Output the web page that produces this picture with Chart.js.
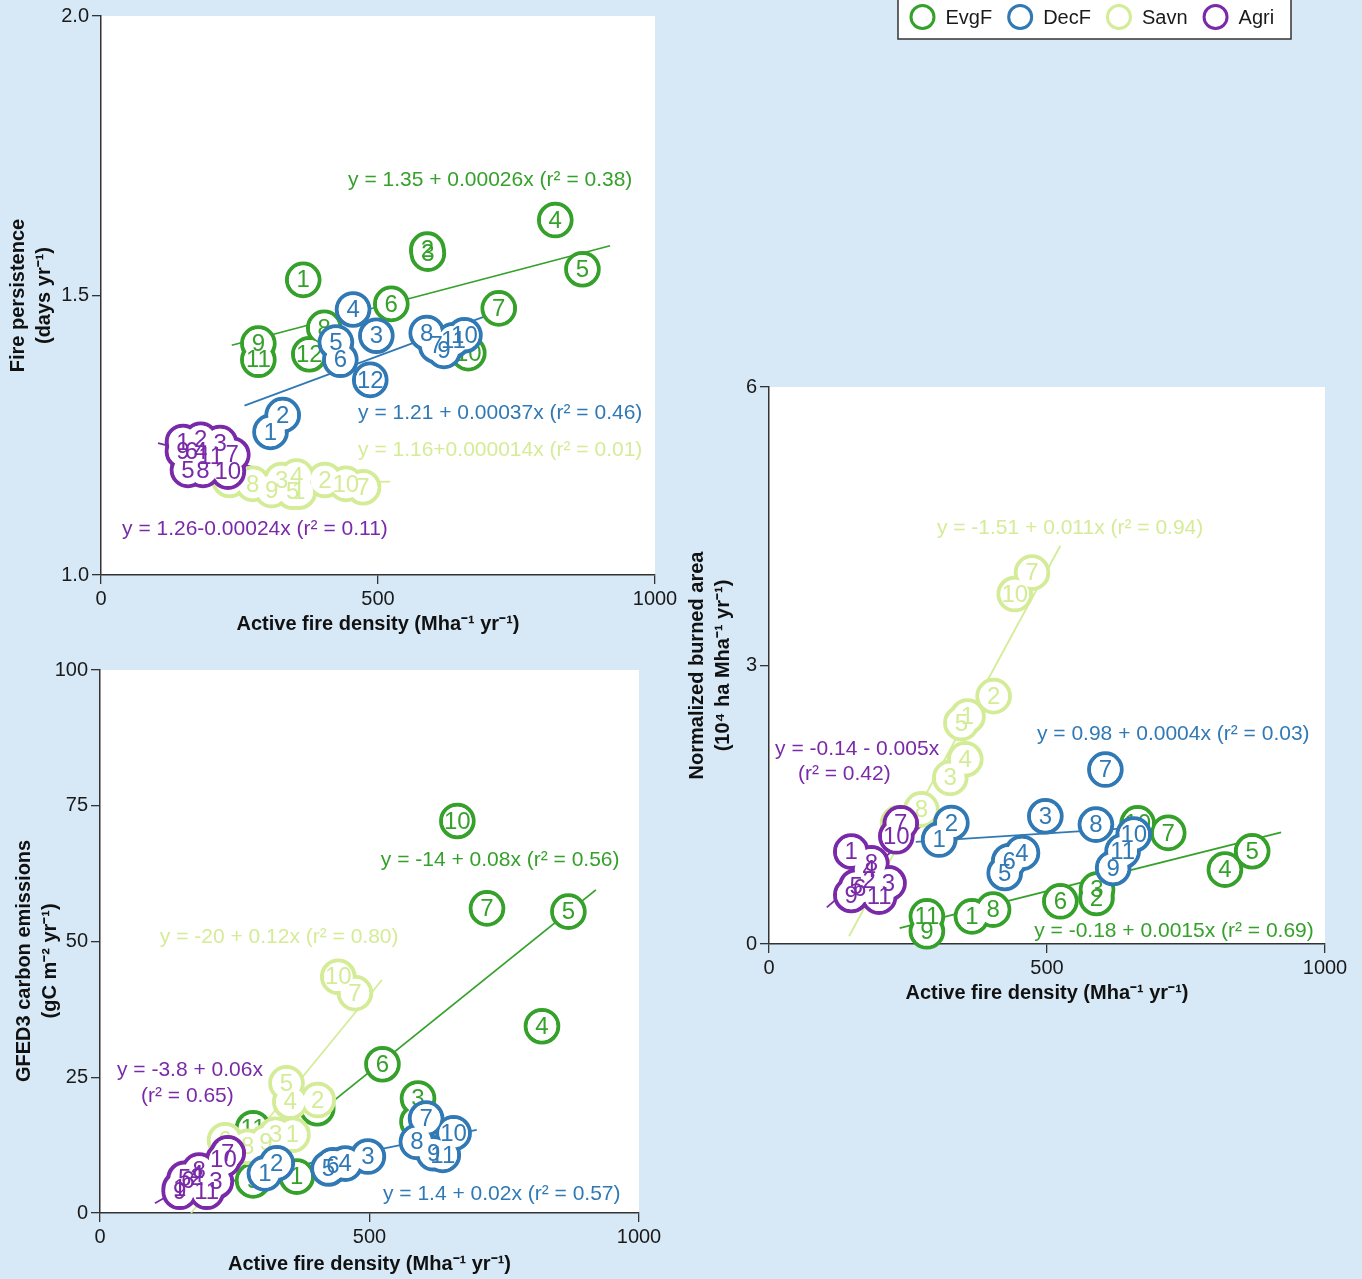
<!DOCTYPE html>
<html>
<head>
<meta charset="utf-8">
<script src="https://cdn.jsdelivr.net/npm/chart.js@4.4.1/dist/chart.umd.min.js"></script>
<style>
  html, body { margin: 0; padding: 0; background: #d7e9f6; }
  #wrap { position: relative; width: 1362px; height: 1279px; overflow: hidden; }
  #wrap canvas { position: absolute; left: 0; top: 0; }
</style>
</head>
<body>
<div id="wrap">
  <canvas id="persistence" width="1362" height="1279"></canvas>
  <canvas id="burned" width="1362" height="1279"></canvas>
  <canvas id="emissions" width="1362" height="1279"></canvas>
</div>
<script>
// ---- Land-cover groups ----
const groupNames = ['EvgF', 'DecF', 'Savn', 'Agri'];
const groupColors = ['#35a12b', '#3079b5', '#d4ec97', '#7a2aa8'];

// ---- Region numbers and active fire density (Mha-1 yr-1), shared by all panels ----
const evgfTags = ['1','2','3','4','5','6','7','8','9','10','11','12'];
const evgfDensity = [365, 589, 590, 820, 869, 524, 718, 403, 284, 663, 284, 376];
const decfTags = ['1','2','3','4','5','6','7','8','9','10','11','12'];
const decfDensity = [306, 328, 497, 455, 424, 432, 605, 588, 619, 656, 636, 486];
const savnTags = ['1','2','3','4','5','6','7','8','9','10'];
const savnDensity = [357, 404, 326, 353, 346, 232, 473, 274, 308, 442];
const agriTags = ['1','2','3','4','5','6','7','8','9','10','11'];
const agriDensity = [148, 180, 215, 180, 157, 163, 237, 184, 148, 229, 198];

// ---- Fire persistence (days yr-1) ----
const evgfPersistence = [1.528, 1.582, 1.575, 1.635, 1.547, 1.485, 1.477, 1.442, 1.414, 1.397, 1.385, 1.395];
const decfPersistence = [1.256, 1.286, 1.428, 1.475, 1.416, 1.385, 1.410, 1.433, 1.401, 1.429, 1.420, 1.349];
const savnPersistence = [1.149, 1.170, 1.170, 1.176, 1.149, 1.170, 1.157, 1.163, 1.152, 1.163];
const agriPersistence = [1.238, 1.242, 1.236, 1.221, 1.188, 1.222, 1.215, 1.188, 1.221, 1.185, 1.212];

// ---- Normalized burned area (10^4 ha Mha-1 yr-1) ----
const evgfBurned = [0.298, 0.496, 0.586, 0.801, 0.999, 0.46, 1.197, 0.37, 0.137, 1.30, 0.298, null];
const decfBurned = [1.125, 1.304, 1.376, 0.981, 0.765, 0.891, 1.879, 1.286, 0.819, 1.179, 0.999, null];
const savnBurned = [2.45, 2.67, 1.79, 1.99, 2.38, 1.30, 4.0, 1.45, 1.15, 3.77];
const agriBurned = [0.995, 0.69, 0.654, 0.80, 0.62, 0.60, 1.30, 0.87, 0.528, 1.16, 0.51];

// ---- GFED3 carbon emissions (gC m-2 yr-1) ----
const evgfEmissions = [6.7, 16.8, 21.1, 34.4, 55.5, 27.4, 56.1, 19.3, 6.0, 72.2, 15.6, null];
const decfEmissions = [7.3, 9.15, 10.4, 9.1, 8.2, 8.8, 17.4, 13.1, 11.0, 14.7, 10.7, null];
const savnEmissions = [14.4, 20.8, 14.4, 20.5, 23.9, 13.4, 40.5, 12.2, 13.0, 43.5];
const agriEmissions = [4.5, 6.6, 5.8, 7.2, 6.3, 6.0, 11.0, 7.8, 3.9, 9.8, 3.9];

// ---- Fitted lines, [x start, y start, x end, y end] per group ----
const persistenceFits = [[236, 1.411, 919, 1.589], [259, 1.303, 699, 1.465], [160, 1.162, 522, 1.167], [103, 1.236, 287, 1.190]];
const burnedFits = [[235, 0.172, 921, 1.202], [264, 1.10, 702, 1.27], [144, 0.083, 524, 4.29], [104, 0.395, 286, 1.336]];
const emissionFits = [[236, 4.9, 920, 59.5], [260, 6.6, 699, 15.3], [169, 0, 523, 42.9], [102, 1.8, 284, 12.2]];

// ---- Fit equations ----
const persistenceEquations = [['y = 1.35 + 0.00026x (r² = 0.38)'], ['y = 1.21 + 0.00037x (r² = 0.46)'], ['y = 1.16+0.000014x (r² = 0.01)'], ['y = 1.26-0.00024x (r² = 0.11)']];
const burnedEquations = [['y = -0.18 + 0.0015x (r² = 0.69)'], ['y = 0.98 + 0.0004x (r² = 0.03)'], ['y = -1.51 + 0.011x (r² = 0.94)'], ['y = -0.14 - 0.005x', '(r² = 0.42)']];
const emissionEquations = [['y = -14 + 0.08x (r² = 0.56)'], ['y = 1.4 + 0.02x (r² = 0.57)'], ['y = -20 + 0.12x (r² = 0.80)'], ['y = -3.8 + 0.06x', '(r² = 0.65)']];

// ---- Axis ticks and titles ----
const densityTicks = [0, 500, 1000];
const persistenceTicks = [1.0, 1.5, 2.0];
const burnedTicks = [0, 3, 6];
const emissionTicks = [0, 25, 50, 75, 100];
const densityTitle = 'Active fire density (Mha⁻¹ yr⁻¹)';
const persistenceTitle = ['Fire persistence', '(days yr⁻¹)'];
const burnedTitle = ['Normalized burned area', '(10⁴ ha Mha⁻¹ yr⁻¹)'];
const emissionTitle = ['GFED3 carbon emissions\u00a0\u00a0\u00a0\u00a0\u00a0\u00a0\u00a0', '(gC m⁻² yr⁻¹)\u00a0\u00a0\u00a0\u00a0\u00a0\u00a0\u00a0'];

const FONT = "'Liberation Sans', Arial, Helvetica, sans-serif";
Chart.defaults.font.family = FONT;
Chart.defaults.color = '#1a1a1a';

const tagsByGroup = [evgfTags, decfTags, savnTags, agriTags];
const densityByGroup = [evgfDensity, decfDensity, savnDensity, agriDensity];
const drawSequence = [0, 2, 1, 3]; // EvgF, Savn, DecF, Agri (later ones sit on top)

// White plotting area
const plotBackground = {
  id: 'plotBackground',
  beforeDraw(chart) {
    const { ctx, chartArea: a } = chart;
    ctx.save();
    ctx.fillStyle = '#ffffff';
    ctx.fillRect(a.left, a.top, a.right - a.left, a.bottom - a.top);
    ctx.restore();
  }
};

// Region numbers written inside each circle
const pointTags = {
  id: 'pointTags',
  afterDatasetDraw(chart, args) {
    const ds = chart.data.datasets[args.index];
    if (!ds.tagColor) return;
    const ctx = chart.ctx;
    ctx.save();
    ctx.font = '24px ' + FONT;
    ctx.fillStyle = ds.tagColor;
    ctx.textAlign = 'center';
    ctx.textBaseline = 'middle';
    args.meta.data.forEach((el, i) => {
      ctx.fillText(ds.data[i].tag, el.x, el.y + 1);
    });
    ctx.restore();
  }
};

function equationPlugin(equations, anchors) {
  return {
    id: 'fitEquations',
    afterDatasetsDraw(chart) {
      const { ctx, scales } = chart;
      ctx.save();
      ctx.font = '21px ' + FONT;
      ctx.textAlign = 'left';
      ctx.textBaseline = 'middle';
      equations.forEach((lines, g) => {
        ctx.fillStyle = groupColors[g];
        lines.forEach((text, k) => {
          const [ax, ay] = anchors[g][k];
          ctx.fillText(text, scales.x.getPixelForValue(ax), scales.y.getPixelForValue(ay));
        });
      });
      ctx.restore();
    }
  };
}

// Group key drawn in the top-right corner
const groupLegend = {
  id: 'groupLegend',
  afterDraw(chart) {
    const ctx = chart.ctx;
    ctx.save();
    ctx.fillStyle = '#ffffff';
    ctx.strokeStyle = '#333333';
    ctx.lineWidth = 1.5;
    ctx.fillRect(898, -2, 393, 41);
    ctx.strokeRect(898, -2, 393, 41);
    ctx.font = '20px ' + FONT;
    ctx.textBaseline = 'middle';
    ctx.textAlign = 'left';
    let cursor = 909.5;
    groupNames.forEach((name, g) => {
      const cx = cursor + 13;
      ctx.beginPath();
      ctx.arc(cx, 17, 11.5, 0, Math.PI * 2);
      ctx.strokeStyle = groupColors[g];
      ctx.lineWidth = 3;
      ctx.stroke();
      ctx.fillStyle = '#1a1a1a';
      const tx = cx + 23;
      ctx.fillText(name, tx, 18);
      cursor = tx + ctx.measureText(name).width + 15;
    });
    ctx.restore();
  }
};

function buildDatasets(valuesByGroup, fits) {
  const sets = [];
  fits.forEach((f, g) => {
    sets.push({
      data: [{ x: f[0], y: f[1] }, { x: f[2], y: f[3] }],
      showLine: true,
      borderColor: groupColors[g],
      borderWidth: 1.8,
      pointRadius: 0,
      clip: false
    });
  });
  drawSequence.forEach(g => {
    const pts = [];
    densityByGroup[g].forEach((x, i) => {
      const y = valuesByGroup[g][i];
      if (y !== null && y !== undefined) pts.push({ x, y, tag: tagsByGroup[g][i] });
    });
    // outline ring
    sets.push({
      data: pts,
      pointRadius: 16.3,
      pointBorderWidth: 4,
      pointBorderColor: groupColors[g],
      pointBackgroundColor: '#ffffff',
      showLine: false,
      clip: false
    });
    // white interior covering neighbouring rings of the same group
    sets.push({
      data: pts,
      pointRadius: 14.3,
      pointBorderWidth: 0,
      pointBorderColor: 'rgba(0,0,0,0)',
      pointBackgroundColor: '#ffffff',
      showLine: false,
      clip: false,
      tagColor: groupColors[g]
    });
  });
  const n = sets.length;
  sets.forEach((s, i) => { s.order = n - i; });
  return sets;
}

function axis(opts) {
  return {
    type: 'linear',
    min: opts.min,
    max: opts.max,
    afterBuildTicks: s => { s.ticks = opts.ticks.map(v => ({ value: v })); },
    afterFit: s => {
      if (opts.width) s.width = opts.width;
      if (opts.height) s.height = opts.height;
      s.paddingTop = 0; s.paddingBottom = 0; s.paddingLeft = 0; s.paddingRight = 0;
    },
    ticks: {
      color: '#1a1a1a',
      font: { size: 20 },
      padding: opts.tickPad,
      callback: opts.format || (v => String(v))
    },
    grid: { drawOnChartArea: false, drawTicks: true, tickLength: 9, color: '#333333', lineWidth: 1.3 },
    border: { display: true, color: '#333333', width: 1.5 },
    title: {
      display: true,
      text: opts.title,
      color: '#111111',
      padding: 0,
      font: { size: 20, weight: 'bold', lineHeight: opts.lineHeight }
    }
  };
}

function makePanel(id, cfg) {
  return new Chart(document.getElementById(id), {
    type: 'scatter',
    data: { datasets: buildDatasets(cfg.values, cfg.fits) },
    options: {
      responsive: false,
      animation: false,
      events: [],
      layout: { autoPadding: false, padding: cfg.padding },
      plugins: { legend: { display: false }, tooltip: { enabled: false } },
      scales: {
        x: axis({ min: 0, max: 1000, ticks: densityTicks, title: densityTitle, height: cfg.xHeight, tickPad: 3, lineHeight: 1.2 }),
        y: axis({ min: cfg.yMin, max: cfg.yMax, ticks: cfg.yTicks, title: cfg.yTitle, width: cfg.yWidth, tickPad: 3, lineHeight: 1.3, format: cfg.yFormat })
      }
    },
    plugins: [plotBackground, pointTags, equationPlugin(cfg.equations, cfg.anchors)].concat(cfg.extra || [])
  });
}

// Fire persistence panel
makePanel('persistence', {
  values: [evgfPersistence, decfPersistence, savnPersistence, agriPersistence],
  fits: persistenceFits,
  equations: persistenceEquations,
  anchors: [[[446, 1.7066]], [[464, 1.2898]], [[464, 1.2236]], [[38, 1.0823]]],
  yMin: 1, yMax: 2, yTicks: persistenceTicks, yTitle: persistenceTitle,
  yFormat: v => v.toFixed(1),
  yWidth: 96, xHeight: 61,
  padding: { left: 5, top: 16, right: 707, bottom: 643 }
});

// Normalized burned area panel
makePanel('burned', {
  values: [evgfBurned, decfBurned, savnBurned, agriBurned],
  fits: burnedFits,
  equations: burnedEquations,
  anchors: [[[477, 0.140]], [[482, 2.263]], [[302, 4.483]], [[11, 2.101], [52, 1.832]]],
  yMin: 0, yMax: 6, yTicks: burnedTicks, yTitle: burnedTitle,
  yWidth: 85, xHeight: 61,
  padding: { left: 684, top: 387, right: 37, bottom: 274 },
  extra: [groupLegend]
});

// GFED3 carbon emissions panel
makePanel('emissions', {
  values: [evgfEmissions, decfEmissions, savnEmissions, agriEmissions],
  fits: emissionFits,
  equations: emissionEquations,
  anchors: [[[521, 65.0]], [[525, 3.5]], [[111, 50.8]], [[31.5, 26.3], [76, 21.5]]],
  yMin: 0, yMax: 100, yTicks: emissionTicks, yTitle: emissionTitle,
  yWidth: 89, xHeight: 63,
  padding: { left: 11, top: 670, right: 723, bottom: 3 }
});
</script>
</body>
</html>
